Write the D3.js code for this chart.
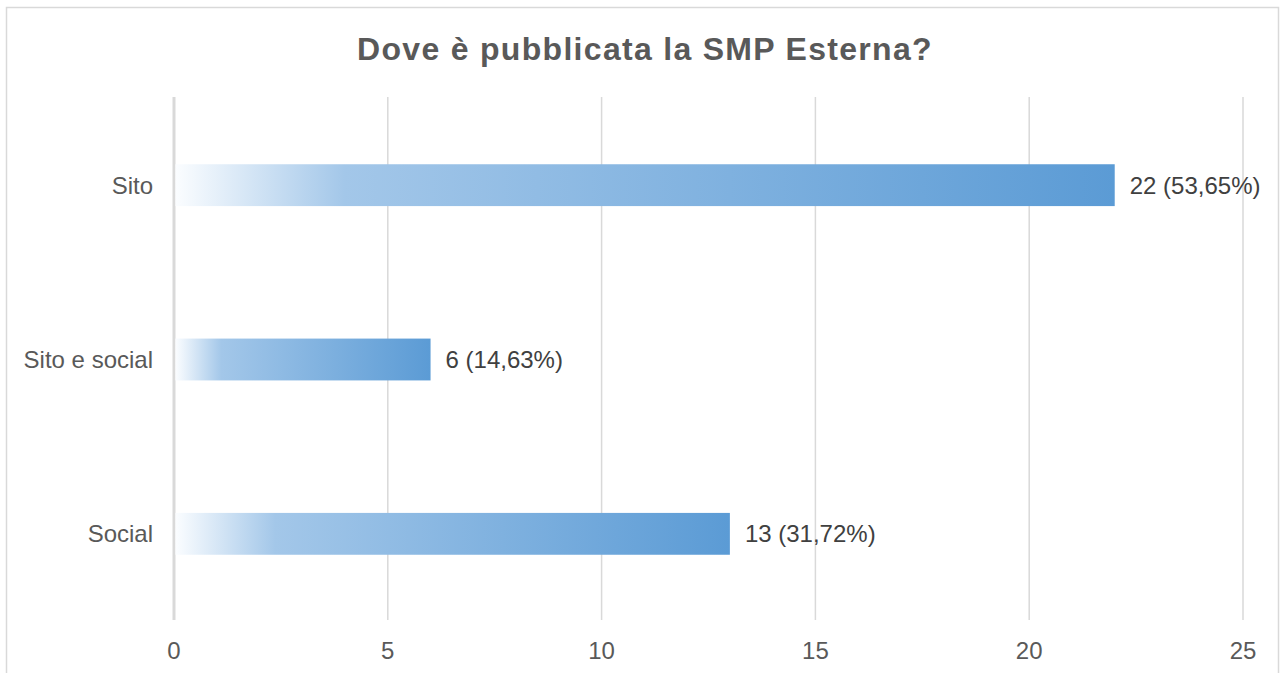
<!DOCTYPE html>
<html>
<head>
<meta charset="utf-8">
<script src="https://cdn.jsdelivr.net/npm/d3@7"></script>
<style>
  body { margin: 0; background: #fff; }
  svg { display: block; font-family: "Liberation Sans", Arial, sans-serif; }
</style>
</head>
<body>
<svg id="chart" width="1282" height="673"></svg>
<script>
// dati del grafico
const categories = ["Sito", "Sito e social", "Social"];
const values = [22, 6, 13];
const valueLabels = ["22 (53,65%)", "6 (14,63%)", "13 (31,72%)"];
const ticks = [0, 5, 10, 15, 20, 25];
const title = "Dove è pubblicata la SMP Esterna?";

const svg = d3.select("#chart");

// cornice
svg.append("rect")
    .attr("x", 6.5).attr("y", 7.5)
    .attr("width", 1272).attr("height", 700)
    .attr("fill", "#fff")
    .attr("stroke", "#d9d9d9")
    .attr("stroke-width", 1.5);

const margin = {left: 174, right: 39, top: 97, bottom: 53};
const x = d3.scaleLinear().domain([0, 25]).range([margin.left, 1282 - margin.right]);
const y = d3.scaleBand().domain(categories).range([margin.top + 1, 673 - margin.bottom + 1]).paddingInner(0.76).paddingOuter(0.38);

// gradiente
const grad = svg.append("defs").append("linearGradient")
    .attr("id", "barGrad")
    .attr("x1", "0%").attr("x2", "100%").attr("y1", "0%").attr("y2", "0%");
grad.append("stop").attr("offset", "0%").attr("stop-color", "#fbfdff");
grad.append("stop").attr("offset", "18%").attr("stop-color", "#a3c7e9");
grad.append("stop").attr("offset", "100%").attr("stop-color", "#5b9bd5");

svg.append("text")
    .attr("x", 645).attr("y", 60)
    .attr("text-anchor", "middle")
    .attr("font-size", 32)
    .attr("font-weight", "bold")
    .attr("letter-spacing", 1.3)
    .attr("fill", "#595959")
    .text(title);

// griglia
svg.append("g")
    .selectAll("line")
    .data(ticks)
    .join("line")
    .attr("x1", d => x(d)).attr("x2", d => x(d))
    .attr("y1", margin.top).attr("y2", 673 - margin.bottom)
    .attr("stroke", "#d9d9d9")
    .attr("stroke-width", d => d === 0 ? 3 : 1.5);

svg.append("g")
    .selectAll("text")
    .data(ticks)
    .join("text")
    .attr("x", d => x(d)).attr("y", 659)
    .attr("text-anchor", "middle")
    .attr("font-size", 24)
    .attr("fill", "#595959")
    .text(d => d);

// barre
svg.append("g")
    .selectAll("rect")
    .data(categories)
    .join("rect")
    .attr("x", x(0) + 1.5)
    .attr("y", d => y(d))
    .attr("width", (d, i) => x(values[i]) - x(0) - 1.5)
    .attr("height", y.bandwidth())
    .attr("fill", "url(#barGrad)");

svg.append("g")
    .selectAll("text")
    .data(categories)
    .join("text")
    .attr("x", 153)
    .attr("y", d => y(d) + y.bandwidth() / 2)
    .attr("dy", "0.35em")
    .attr("text-anchor", "end")
    .attr("font-size", 24)
    .attr("fill", "#595959")
    .text(d => d);

svg.append("g")
    .selectAll("text")
    .data(categories)
    .join("text")
    .attr("x", (d, i) => x(values[i]) + 15)
    .attr("y", d => y(d) + y.bandwidth() / 2)
    .attr("dy", "0.35em")
    .attr("font-size", 24)
    .attr("fill", "#404040")
    .text((d, i) => valueLabels[i]);
</script>
</body>
</html>
